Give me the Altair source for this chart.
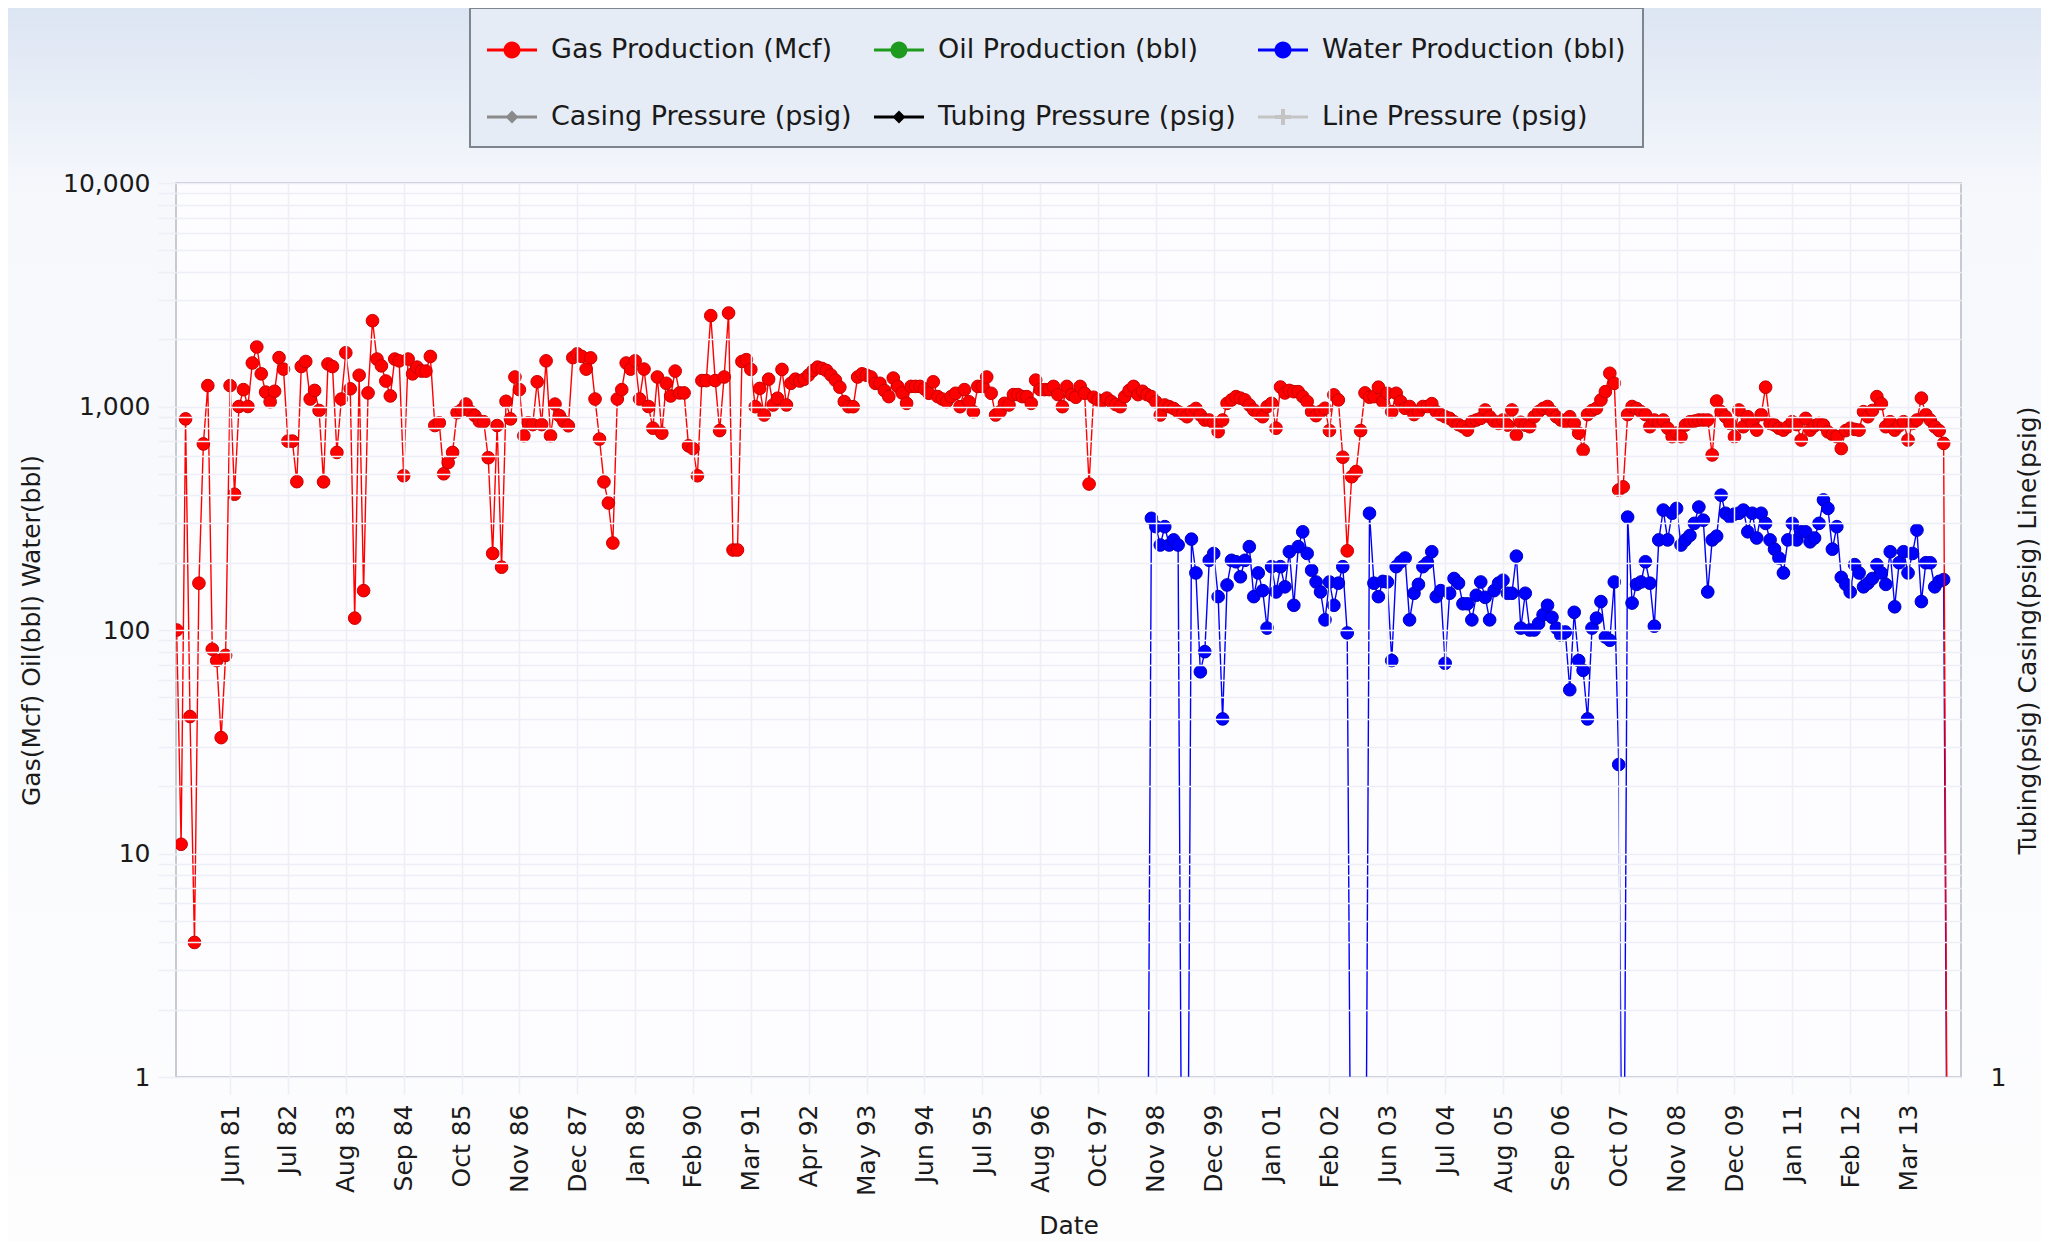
import json
import altair as alt
import pandas as pd

# ---------------- data ----------------
SERIES = ["Gas Production (Mcf)", "Oil Production (bbl)", "Water Production (bbl)",
          "Casing Pressure (psig)", "Tubing Pressure (psig)", "Line Pressure (psig)"]
SERIES_COLORS = ["#ff0000", "#1e9a1e", "#0000ff", "#8a8a8a", "#000000", "#c4c4c4"]

TICK_LABELS = ["Jun 81", "Jul 82", "Aug 83", "Sep 84", "Oct 85", "Nov 86", "Dec 87",
               "Jan 89", "Feb 90", "Mar 91", "Apr 92", "May 93", "Jun 94", "Jul 95",
               "Aug 96", "Oct 97", "Nov 98", "Dec 99", "Jan 01", "Feb 02", "Jun 03",
               "Jul 04", "Aug 05", "Sep 06", "Oct 07", "Nov 08", "Dec 09", "Jan 11",
               "Feb 12", "Mar 13"]
TICK_FIRST = 12      # record index of the first labelled month
TICK_STEP = 13       # records between labels

# monthly gas production, one value per record (index 0 .. 398)
GAS = [
    100, 11, 880, 41, 4, 162, 680, 1240, 82, 73,
    33, 77, 1240, 405, 1000, 1190, 1000, 1565, 1847, 1400,
    1160, 1050, 1170, 1655, 1470, 700, 700, 461, 1510, 1590,
    1080, 1180, 960, 460, 1550, 1510, 623, 1080, 1740, 1200,
    113, 1380, 150, 1150, 2420, 1630, 1520, 1300, 1115, 1630,
    1600, 490, 1630, 1400, 1500, 1440, 1440, 1675, 822, 845,
    500, 561, 623, 938, 966, 1025, 950, 910, 860, 855,
    590, 220, 822, 191, 1055, 880, 1355, 1190, 740, 845,
    830, 1290, 830, 1600, 740, 1025, 910, 855, 820, 1655,
    1720, 1675, 1470, 1650, 1080, 715, 460, 370, 245, 1080,
    1190, 1565, 1470, 1600, 1080, 1470, 1000, 800, 1355, 760,
    1270, 1115, 1440, 1150, 1150, 667, 648, 490, 1306, 1306,
    2550, 1306, 780, 1355, 2620, 228, 228, 1590, 1620, 1465,
    998, 1205, 916, 1325, 1016, 1089, 1465, 1016, 1270, 1325,
    1300, 1325, 1383, 1450, 1500, 1480, 1450, 1383, 1312, 1220,
    1052, 998, 998, 1355, 1400, 1380, 1355, 1270, 1270, 1180,
    1107, 1340, 1230, 1150, 1033, 1230, 1230, 1230, 1200, 1146,
    1290, 1107, 1080, 1052, 1107, 1146, 998, 1190, 1050, 948,
    1230, 1230, 1355, 1146, 916, 948, 1033, 1016, 1130, 1130,
    1107, 1107, 1033, 1312, 1190, 1190, 1190, 1230, 1130, 998,
    1230, 1130, 1100, 1230, 1146, 450, 1100, 1070, 1060, 1090,
    1052, 1020, 998, 1107, 1180, 1230, 1130, 1170, 1130, 1107,
    1050, 916, 1016, 998, 980, 948, 930, 900, 950, 980,
    916, 870, 870, 845, 772, 870, 1033, 1070, 1107, 1090,
    1070, 1016, 965, 930, 900, 998, 1033, 800, 1222, 1150,
    1180, 1165, 1165, 1107, 1052, 948, 910, 950, 982, 780,
    1127, 1070, 593, 226, 485, 512, 780, 1150, 1100, 1107,
    1220, 1052, 1146, 948, 1146, 1052, 982, 1000, 920, 948,
    1000, 1000, 1030, 948, 920, 900, 885, 855, 830, 812,
    784, 855, 870, 885, 965, 900, 860, 840, 870, 826,
    965, 745, 850, 826, 812, 900, 948, 980, 1000, 948,
    900, 870, 855, 900, 840, 760, 638, 920, 960, 982,
    1070, 1165, 1408, 1270, 423, 437, 920, 1000, 980, 948,
    920, 812, 870, 850, 870, 800, 733, 760, 733, 826,
    855, 860, 870, 870, 870, 607, 1058, 948, 900, 840,
    733, 965, 812, 900, 840, 784, 920, 1220, 840, 826,
    800, 784, 812, 855, 830, 708, 885, 784, 820, 840,
    826, 770, 750, 733, 648, 780, 800, 790, 784, 948,
    900, 960, 1107, 1030, 812, 855, 784, 820, 855, 708,
    840, 870, 1090, 920, 870, 812, 780, 684, 0,
]

# monthly water production, starting at record index WATER_START
WATER_START = 218
WATER = [
    0, 316, 290, 240, 290, 240, 253, 240, 0, 0,
    255, 180, 65, 80, 205, 220, 141, 40, 159, 205,
    202, 173, 205, 236, 141, 180, 150, 102, 192, 148,
    192, 156, 224, 129, 236, 275, 220, 185, 164, 148,
    111, 164, 129, 162, 192, 97, 0, 0, 0, 0,
    333, 162, 141, 165, 164, 73, 192, 202, 210, 111,
    146, 160, 192, 200, 224, 141, 150, 71, 146, 170,
    162, 131, 131, 111, 143, 164, 140, 111, 150, 162,
    167, 146, 146, 214, 102, 146, 100, 100, 107, 117,
    129, 114, 102, 95, 98, 54, 120, 73, 66, 40,
    102, 113, 134, 93, 90, 164, 25, 0, 320, 132,
    160, 164, 202, 162, 104, 253, 344, 253, 333, 350,
    240, 253, 265, 300, 355, 310, 148, 253, 263, 401,
    333, 320, 330, 333, 344, 275, 333, 258, 333, 300,
    253, 230, 210, 180, 253, 300, 253, 275, 275, 248,
    258, 300, 382, 350, 230, 290, 172, 160, 148, 196,
    180, 156, 162, 170, 196, 180, 160, 224, 127, 200,
    224, 180, 220, 280, 134, 200, 200, 156, 165, 168, 0,
]

# ---------------- layout / style ----------------
W, H = 1785, 894
PAD = {"left": 168, "top": 175, "right": 80, "bottom": 164}
FONT = "DejaVu Sans"
TXT = "#1a1a1a"
GRID = "#edeff6"

gas_df = pd.DataFrame({"idx": list(range(len(GAS))), "value": GAS, "series": SERIES[0]})
water_df = pd.DataFrame({"idx": list(range(WATER_START, WATER_START + len(WATER))),
                         "value": WATER, "series": SERIES[2]})
legend_df = pd.DataFrame({"idx": [0] * len(SERIES), "value": [0] * len(SERIES), "series": SERIES})
one_df = pd.DataFrame({"k": [0]})

tick_values = [TICK_FIRST + TICK_STEP * k for k in range(len(TICK_LABELS))]
log_values = [m * 10 ** e for e in range(4) for m in range(1, 10)] + [10000]

x_scale = alt.Scale(domain=[-0.15, 400.9], nice=False, zero=False)
y_scale = alt.Scale(type="log", domain=[1, 10000], nice=False)

x_axis = alt.Axis(
    values=tick_values,
    labelExpr=f"{json.dumps(TICK_LABELS)}[round((datum.value - {TICK_FIRST}) / {TICK_STEP})]",
    labelAngle=270, labelFont=FONT, labelFontSize=25, labelColor=TXT,
    labelPadding=10, labelOverlap=False,
    tickSize=17, tickColor=GRID, tickWidth=1.5,
    grid=True, gridColor=GRID, gridWidth=1.5, domain=False,
    title="Date", titleFont=FONT, titleFontSize=25, titleFontWeight="normal",
    titleColor=TXT, titlePadding=18, zindex=1,
)
y_axis = alt.Axis(
    values=log_values,
    labelExpr="indexof([1, 10, 100, 1000, 10000], datum.value) >= 0 ? format(datum.value, ',') : ''",
    labelFont=FONT, labelFontSize=25, labelColor=TXT, labelPadding=8, labelOverlap=False,
    tickSize=18, tickColor=GRID, tickWidth=1.5,
    grid=True, gridColor=GRID, gridWidth=1.5, domain=False,
    title="Gas(Mcf) Oil(bbl) Water(bbl)", titleFont=FONT, titleFontSize=25,
    titleFontWeight="normal", titleColor=TXT, titlePadding=18, zindex=1,
)
y_axis_right = alt.Axis(
    orient="right", values=[1], format=",",
    labelFont=FONT, labelFontSize=25, labelColor=TXT, labelPadding=29,
    tickSize=0, grid=False, domain=False,
    title="Tubing(psig) Casing(psig) Line(psig)", titleFont=FONT, titleFontSize=25,
    titleFontWeight="normal", titleColor=TXT, titlePadding=10,
    titleAngle=270, titleBaseline="top", zindex=1,
)

SHOWN = "max(datum.value, 0.05)"

# legend symbols: line with marker in the middle
LINE = "M-1,-0.06L1,-0.06L1,0.06L-1,0.06Z "
CIRCLE = LINE + "M0.34,0A0.34,0.34 0 1,1 -0.34,0A0.34,0.34 0 1,1 0.34,0Z"
DIAMOND = LINE + "M0,-0.26L0.26,0L0,0.26L-0.26,0Z"
PLUS = LINE + ("M-0.08,-0.32L0.08,-0.32L0.08,-0.08L0.32,-0.08L0.32,0.08L0.08,0.08"
               "L0.08,0.32L-0.08,0.32L-0.08,0.08L-0.32,0.08L-0.32,-0.08L-0.08,-0.08Z")
SHAPES = [CIRCLE, CIRCLE, CIRCLE, DIAMOND, DIAMOND, PLUS]

legend = alt.Legend(
    title=None, orient="none", legendX=294, legendY=-175, columns=3, direction="horizontal",
    columnPadding=22, rowPadding=29, padding=17,
    fillColor="#e6ecf6", strokeColor="#7e858e",
    labelFont=FONT, labelFontSize=27, labelColor=TXT, labelLimit=700, labelOffset=14,
    symbolSize=2500, symbolStrokeWidth=0, symbolOpacity=1, zindex=1,
)

background = alt.Chart(one_df).mark_rect(
    color=alt.LinearGradient(
        gradient="linear", x1=0, x2=0, y1=0, y2=1,
        stops=[alt.GradientStop(color="#dce5f3", offset=0),
               alt.GradientStop(color="#f6f8fc", offset=0.15),
               alt.GradientStop(color="#fdfdfe", offset=1)]),
).encode(
    x=alt.value(-PAD["left"]), x2=alt.value(W + PAD["right"]),
    y=alt.value(-PAD["top"]), y2=alt.value(H + PAD["bottom"]),
)
plot_bg = alt.Chart(one_df).mark_rect(fill="#fdfdff", stroke="#c6cad2", strokeWidth=2).encode(
    x=alt.value(0), x2=alt.value(W), y=alt.value(0), y2=alt.value(H),
)


def series_layers(df, color, edge, with_axes):
    base = alt.Chart(df).transform_calculate(shown=SHOWN)
    xa = x_axis if with_axes else None
    ya = y_axis if with_axes else None
    line = base.mark_line(color=color, strokeWidth=1.4, clip=True).encode(
        x=alt.X("idx:Q", scale=x_scale, axis=xa),
        y=alt.Y("shown:Q", scale=y_scale, axis=ya),
    )
    pts = base.mark_circle(size=160, color=color, opacity=1, stroke=edge, strokeWidth=1,
                           clip=True).encode(
        x=alt.X("idx:Q", scale=x_scale, axis=None),
        y=alt.Y("shown:Q", scale=y_scale, axis=None),
    )
    return [line, pts]


water_layers = series_layers(water_df, "#0000ff", "#0000c0", False)
gas_layers = series_layers(gas_df, "#ff0000", "#c80000", True)

legend_layer = alt.Chart(legend_df).transform_calculate(shown=SHOWN).mark_point(
    filled=True, opacity=1, clip=True
).encode(
    x=alt.X("idx:Q", scale=x_scale, axis=None),
    y=alt.Y("shown:Q", scale=y_scale, axis=y_axis_right),
    color=alt.Color("series:N", scale=alt.Scale(domain=SERIES, range=SERIES_COLORS), legend=legend),
    shape=alt.Shape("series:N", scale=alt.Scale(domain=SERIES, range=SHAPES), legend=legend),
)

chart = alt.layer(
    background, plot_bg, *water_layers, *gas_layers, legend_layer
).resolve_axis(y="independent", x="independent").properties(
    width=W, height=H, padding=PAD, autosize=alt.AutoSizeParams(type="none"),
).configure(font=FONT).configure_view(strokeWidth=0).configure_legend(strokeWidth=2)

chart.save("out.html", embed_options={"renderer": "svg", "actions": False})
